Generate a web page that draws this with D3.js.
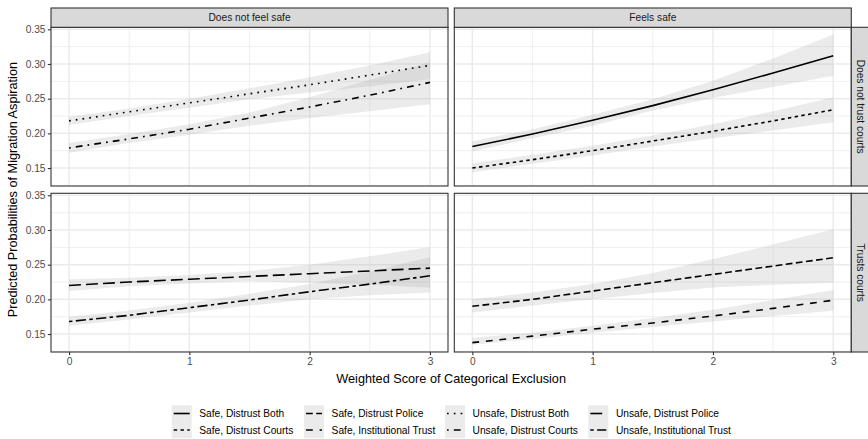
<!DOCTYPE html>
<html>
<head>
<meta charset="utf-8">
<script src="https://cdn.jsdelivr.net/npm/d3@7"></script>
<style>
  html, body { margin: 0; padding: 0; background: #fff; }
  svg { display: block; font-family: "Liberation Sans", Arial, sans-serif; }
</style>
</head>
<body>
<svg id="chart" width="868" height="439"></svg>
<script>
// ---------------- DATA ----------------
const colFacets = ["Does not feel safe", "Feels safe"];
const rowFacets = ["Does not trust courts", "Trusts courts"];
const xValues = [0, 0.5, 1, 1.5, 2, 2.5, 3];
const xTicks = [0, 1, 2, 3];
const yTicks = [0.15, 0.20, 0.25, 0.30, 0.35];
const yTickLabels = ["0.15", "0.20", "0.25", "0.30", "0.35"];

const seriesNames = [
  "Safe, Distrust Both", "Safe, Distrust Courts", "Safe, Distrust Police", "Safe, Institutional Trust",
  "Unsafe, Distrust Both", "Unsafe, Distrust Courts", "Unsafe, Distrust Police", "Unsafe, Institutional Trust"
];
const seriesLinetypes = ["solid", "22", "42", "44", "13", "1343", "73", "2262"];
const seriesFacetCol = [1, 1, 1, 1, 0, 0, 0, 0];
const seriesFacetRow = [0, 0, 1, 1, 0, 0, 1, 1];

// predicted probabilities
const fitSDB = [0.181, 0.199, 0.219, 0.240, 0.263, 0.287, 0.312];
const lowSDB = [0.174, 0.193, 0.211, 0.233, 0.251, 0.267, 0.283];
const uppSDB = [0.1885, 0.206, 0.227, 0.249, 0.276, 0.308, 0.3425];

const fitSDC = [0.150, 0.162, 0.175, 0.189, 0.203, 0.218, 0.234];
const lowSDC = [0.144, 0.156, 0.168, 0.181, 0.193, 0.204, 0.216];
const uppSDC = [0.157, 0.169, 0.182, 0.197, 0.213, 0.232, 0.252];

const fitSDP = [0.190, 0.200, 0.212, 0.224, 0.236, 0.248, 0.260];
const lowSDP = [0.181, 0.191, 0.200, 0.209, 0.217, 0.221, 0.224];
const uppSDP = [0.200, 0.210, 0.222, 0.238, 0.258, 0.279, 0.301];

const fitSIT = [0.1376, 0.147, 0.157, 0.166, 0.176, 0.187, 0.1987];
const lowSIT = [0.1345, 0.143, 0.152, 0.160, 0.168, 0.176, 0.1835];
const uppSIT = [0.1445, 0.152, 0.162, 0.173, 0.185, 0.199, 0.2135];

const fitUDB = [0.218, 0.231, 0.244, 0.257, 0.270, 0.284, 0.298];
const lowUDB = [0.212, 0.225, 0.237, 0.249, 0.259, 0.268, 0.278];
const uppUDB = [0.224, 0.236, 0.250, 0.265, 0.281, 0.298, 0.317];

const fitUDC = [0.179, 0.192, 0.206, 0.222, 0.238, 0.255, 0.2735];
const lowUDC = [0.172, 0.186, 0.198, 0.211, 0.222, 0.232, 0.242];
const uppUDC = [0.186, 0.199, 0.213, 0.230, 0.252, 0.277, 0.303];

const fitUDP = [0.220, 0.225, 0.229, 0.233, 0.237, 0.241, 0.245];
const lowUDP = [0.212, 0.219, 0.223, 0.226, 0.224, 0.221, 0.217];
const uppUDP = [0.229, 0.231, 0.235, 0.241, 0.250, 0.262, 0.2755];

const fitUIT = [0.168, 0.177, 0.188, 0.199, 0.211, 0.222, 0.234];
const lowUIT = [0.162, 0.171, 0.181, 0.191, 0.200, 0.206, 0.210];
const uppUIT = [0.175, 0.184, 0.195, 0.208, 0.222, 0.240, 0.2606];

const seriesFit = [fitSDB, fitSDC, fitSDP, fitSIT, fitUDB, fitUDC, fitUDP, fitUIT];
const seriesLow = [lowSDB, lowSDC, lowSDP, lowSIT, lowUDB, lowUDC, lowUDP, lowUIT];
const seriesUpp = [uppSDB, uppSDC, uppSDP, uppSIT, uppUDB, uppUDC, uppUDP, uppUIT];

// ---------------- LAYOUT ----------------
const svg = d3.select("#chart");
const panelX0 = [51, 454.3];
const panelY0 = [27.3, 193.3];
const panelW = 397, panelH = 158.7;
const stripSize = 19.3;
const smallFont = 10.2, titleFont = 12.7;
const lineW = 1.6, dashUnit = 1.7;

function dashArray(lt) {
  if (lt === "solid") return null;
  return lt.split("").map(c => parseInt(c, 16) * dashUnit).join(",");
}

// scales
const xDataExt = d3.extent(xValues);
const xPad = (xDataExt[1] - xDataExt[0]) * 0.05;
const allY = seriesLow.flat().concat(seriesUpp.flat());
const yDataExt = d3.extent(allY);
const yPad = (yDataExt[1] - yDataExt[0]) * 0.05;
const xDomain = [xDataExt[0] - xPad, xDataExt[1] + xPad];
const yDomain = [yDataExt[0] - yPad, yDataExt[1] + yPad];

const xScales = panelX0.map(x0 => d3.scaleLinear().domain(xDomain).range([x0, x0 + panelW]));
const yScales = panelY0.map(y0 => d3.scaleLinear().domain(yDomain).range([y0 + panelH, y0]));

const xMinor = [0.5, 1.5, 2.5];
const yMinor = [0.125, 0.175, 0.225, 0.275, 0.325].filter(v => v > yDomain[0] && v < yDomain[1]);

// panels
for (let r = 0; r < 2; r++) {
  for (let c = 0; c < 2; c++) {
    const xs = xScales[c], ys = yScales[r];
    const g = svg.append("g");
    g.append("rect").attr("x", panelX0[c]).attr("y", panelY0[r])
      .attr("width", panelW).attr("height", panelH).attr("fill", "#fff");
    // minor grid
    g.selectAll(".vminor").data(xMinor).enter().append("line")
      .attr("x1", d => xs(d)).attr("x2", d => xs(d))
      .attr("y1", panelY0[r]).attr("y2", panelY0[r] + panelH)
      .attr("stroke", "#EBEBEB").attr("stroke-width", 0.8);
    g.selectAll(".hminor").data(yMinor).enter().append("line")
      .attr("y1", d => ys(d)).attr("y2", d => ys(d))
      .attr("x1", panelX0[c]).attr("x2", panelX0[c] + panelW)
      .attr("stroke", "#EBEBEB").attr("stroke-width", 0.8);
    // major grid
    g.selectAll(".vmajor").data(xTicks).enter().append("line")
      .attr("x1", d => xs(d)).attr("x2", d => xs(d))
      .attr("y1", panelY0[r]).attr("y2", panelY0[r] + panelH)
      .attr("stroke", "#EBEBEB").attr("stroke-width", 1.5);
    g.selectAll(".hmajor").data(yTicks).enter().append("line")
      .attr("y1", d => ys(d)).attr("y2", d => ys(d))
      .attr("x1", panelX0[c]).attr("x2", panelX0[c] + panelW)
      .attr("stroke", "#EBEBEB").attr("stroke-width", 1.5);

    const idx = seriesNames.map((n, i) => i).filter(i => seriesFacetCol[i] === c && seriesFacetRow[i] === r);
    // ribbons
    const area = d3.area().x(d => xs(d.x)).y0(d => ys(d.lo)).y1(d => ys(d.hi));
    idx.forEach(i => {
      const pts = xValues.map((x, k) => ({ x: x, lo: seriesLow[i][k], hi: seriesUpp[i][k] }));
      g.append("path").attr("d", area(pts)).attr("fill", "#999999").attr("fill-opacity", 0.2);
    });
    // lines
    const line = d3.line().x(d => xs(d.x)).y(d => ys(d.y));
    idx.forEach(i => {
      const pts = xValues.map((x, k) => ({ x: x, y: seriesFit[i][k] }));
      const p = g.append("path").attr("d", line(pts)).attr("fill", "none")
        .attr("stroke", "#000").attr("stroke-width", lineW);
      const da = dashArray(seriesLinetypes[i]);
      if (da) p.attr("stroke-dasharray", da);
    });
    // border
    g.append("rect").attr("x", panelX0[c]).attr("y", panelY0[r])
      .attr("width", panelW).attr("height", panelH)
      .attr("fill", "none").attr("stroke", "#333333").attr("stroke-width", 1.1);
  }
}

// top strips
colFacets.forEach((lab, c) => {
  svg.append("rect").attr("x", panelX0[c]).attr("y", panelY0[0] - stripSize)
    .attr("width", panelW).attr("height", stripSize)
    .attr("fill", "#D9D9D9").attr("stroke", "#333333").attr("stroke-width", 1.1);
  svg.append("text").attr("x", panelX0[c] + panelW / 2).attr("y", panelY0[0] - stripSize / 2)
    .attr("text-anchor", "middle").attr("dominant-baseline", "central")
    .attr("font-size", smallFont).attr("fill", "#1A1A1A").text(lab);
});
// right strips
rowFacets.forEach((lab, r) => {
  const sx = panelX0[1] + panelW;
  svg.append("rect").attr("x", sx).attr("y", panelY0[r])
    .attr("width", stripSize).attr("height", panelH)
    .attr("fill", "#D9D9D9").attr("stroke", "#333333").attr("stroke-width", 1.1);
  const cx = sx + stripSize / 2, cy = panelY0[r] + panelH / 2;
  svg.append("text").attr("transform", `translate(${cx},${cy}) rotate(90)`)
    .attr("text-anchor", "middle").attr("dominant-baseline", "central")
    .attr("font-size", smallFont).attr("fill", "#1A1A1A").text(lab);
});

// y axes (left column)
for (let r = 0; r < 2; r++) {
  const ys = yScales[r];
  const ax = d3.axisLeft(ys).tickValues(yTicks).tickSize(3.2).tickPadding(2.3)
    .tickFormat((d, i) => yTickLabels[i]);
  const g = svg.append("g").attr("transform", `translate(${panelX0[0]},0)`).call(ax);
  g.select(".domain").remove();
  g.selectAll(".tick line").attr("stroke", "#333333").attr("stroke-width", 1.1);
  g.selectAll(".tick text").attr("fill", "#4D4D4D").attr("font-size", smallFont)
    .attr("font-family", "Liberation Sans, Arial, sans-serif");
}
// x axes (bottom row)
for (let c = 0; c < 2; c++) {
  const xs = xScales[c];
  const ax = d3.axisBottom(xs).tickValues(xTicks).tickSize(3.2).tickPadding(2.3)
    .tickFormat(d3.format("d"));
  const g = svg.append("g").attr("transform", `translate(0,${panelY0[1] + panelH})`).call(ax);
  g.select(".domain").remove();
  g.selectAll(".tick line").attr("stroke", "#333333").attr("stroke-width", 1.1);
  g.selectAll(".tick text").attr("fill", "#4D4D4D").attr("font-size", smallFont)
    .attr("font-family", "Liberation Sans, Arial, sans-serif");
}

// axis titles
svg.append("text").attr("x", (panelX0[0] + panelX0[1] + panelW) / 2).attr("y", 382.5)
  .attr("text-anchor", "middle").attr("font-size", titleFont).attr("fill", "#000")
  .text("Weighted Score of Categorical Exclusion");
svg.append("text")
  .attr("transform", `translate(17,${(panelY0[0] + panelY0[1] + panelH) / 2}) rotate(-90)`)
  .attr("text-anchor", "middle").attr("font-size", titleFont).attr("fill", "#000")
  .text("Predicted Probabilities of Migration Aspiration");

// legend (2 rows, filled by column)
const legendColX = [171.7, 304, 445, 588.3];
const legendRowY = [413.5, 430];
const keyW = 20, keyH = 16.5;
seriesNames.forEach((name, i) => {
  const col = Math.floor(i / 2), row = i % 2;
  const kx = legendColX[col], ky = legendRowY[row];
  const g = svg.append("g");
  g.append("rect").attr("x", kx).attr("y", ky - keyH / 2).attr("width", keyW).attr("height", keyH)
    .attr("fill", "#999999").attr("fill-opacity", 0.2);
  const l = g.append("line").attr("x1", kx + keyW * 0.1).attr("x2", kx + keyW * 0.9)
    .attr("y1", ky).attr("y2", ky).attr("stroke", "#000").attr("stroke-width", lineW);
  const da = dashArray(seriesLinetypes[i]);
  if (da) l.attr("stroke-dasharray", da);
  g.append("text").attr("x", kx + keyW + 7.6).attr("y", ky).attr("dominant-baseline", "central")
    .attr("font-size", smallFont).attr("fill", "#000").text(name);
});
</script>
</body>
</html>
